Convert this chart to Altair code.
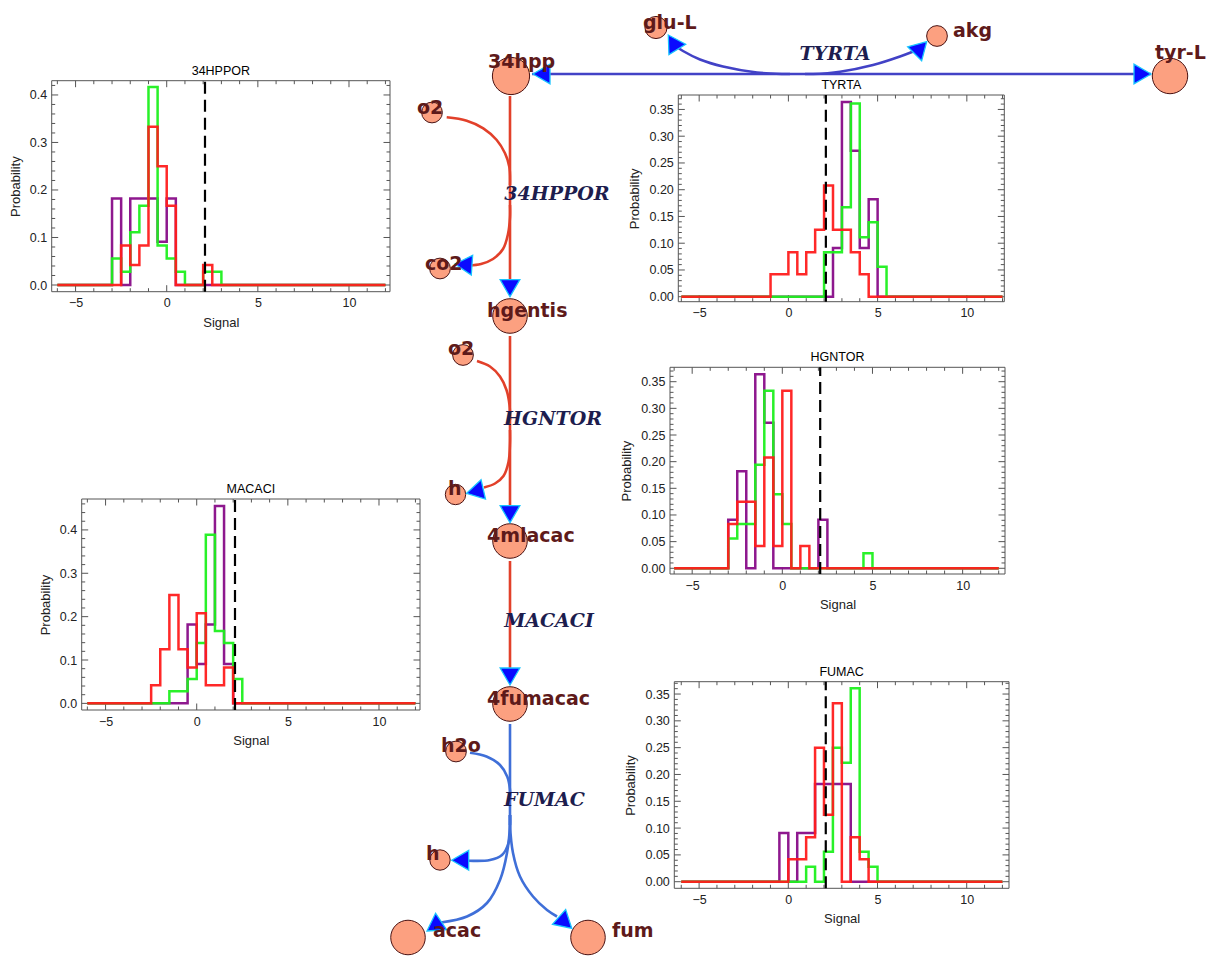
import altair as alt
import pandas as pd

W, H = 1212, 956

# ---------------- histogram values: probability per 0.5-wide signal bin ----------------
BIN_WIDTH = 0.5
SIGNAL_RANGE = [-6.0, 12.0]
THRESHOLD = 2.1
X_TICKS = [-5, 0, 5, 10]
Y_TICKS_TENTHS = [0.0, 0.1, 0.2, 0.3, 0.4]
Y_TICKS_TWENTIETHS = [0.0, 0.05, 0.10, 0.15, 0.20, 0.25, 0.30, 0.35]

HPPOR_START = -3.0
HPPOR_PURPLE = [0.182, 0.0, 0.182, 0.182, 0.182, 0.091, 0.182, 0.0, 0.0, 0.0, 0.0, 0.0]
HPPOR_GREEN = [0.056, 0.028, 0.111, 0.167, 0.417, 0.083, 0.056, 0.028, 0.0, 0.0, 0.028, 0.028]
HPPOR_RED = [0.0, 0.083, 0.042, 0.083, 0.333, 0.25, 0.167, 0.0, 0.0, 0.0, 0.042, 0.0]

TYRTA_START = -1.0
TYRTA_PURPLE = [0, 0, 0, 0, 0, 0, 0, 0.091, 0.364, 0.273, 0.091, 0.182, 0]
TYRTA_GREEN = [0, 0, 0, 0, 0, 0, 0.083, 0.083, 0.167, 0.361, 0.111, 0.139, 0.056]
TYRTA_RED = [0.042, 0.042, 0.083, 0.042, 0.083, 0.125, 0.208, 0.125, 0.125, 0.083, 0.042, 0, 0]

HGNTOR_START = -3.0
HGNTOR_PURPLE = [0.091, 0.182, 0, 0.364, 0.273, 0, 0, 0, 0, 0, 0.091, 0, 0, 0, 0, 0]
HGNTOR_GREEN = [0.056, 0.083, 0.083, 0.194, 0.333, 0.139, 0.083, 0, 0, 0, 0, 0, 0, 0, 0, 0.028]
HGNTOR_RED = [0.083, 0.125, 0.125, 0.042, 0.208, 0.042, 0.333, 0, 0.042, 0, 0, 0, 0, 0, 0, 0]

MACACI_START = -2.5
MACACI_PURPLE = [0, 0, 0, 0, 0.182, 0.091, 0.182, 0.455, 0.091, 0]
MACACI_GREEN = [0, 0, 0.028, 0.028, 0.056, 0.139, 0.389, 0.167, 0.139, 0.056]
MACACI_RED = [0.042, 0.125, 0.25, 0.125, 0.083, 0.208, 0.042, 0.042, 0.083, 0]

FUMAC_START = -0.5
FUMAC_PURPLE = [0.091, 0, 0.091, 0.091, 0.182, 0.182, 0.182, 0.182, 0, 0, 0]
FUMAC_GREEN = [0, 0, 0, 0.028, 0, 0.056, 0.25, 0.222, 0.361, 0.056, 0.028]
FUMAC_RED = [0, 0.042, 0.042, 0.083, 0.25, 0.125, 0.333, 0, 0.083, 0.042, 0]

# ---------------- network (pathway) values, in picture coordinates ----------------
NODE_NAMES = ["34hpp", "glu-L", "akg", "tyr-L", "o2", "co2", "hgentis", "o2", "h",
              "4mlacac", "4fumacac", "h2o", "h", "acac", "fum"]
NODE_X = [511, 656, 937, 1170, 432, 440, 510, 463, 455.5, 510, 510, 456, 440, 408, 588]
NODE_Y = [76, 27.5, 36, 76, 112.5, 268.5, 316, 355, 494.5, 541, 704, 751.5, 860, 937.5, 937.5]
NODE_R = [21, 12.5, 11.7, 20, 11.7, 11.7, 19.5, 11.7, 11.5, 19.5, 19.5, 11.7, 11.5, 19.5, 19.5]
LABEL_X = [488, 643, 953, 1155, 417, 425, 487, 448, 448, 487, 487, 441, 426, 433, 612]
LABEL_Y = [68, 29, 37, 59, 114, 270, 317, 355, 495, 542, 705, 752, 860, 937, 937]

RXN_NAMES = ["TYRTA", "34HPPOR", "HGNTOR", "MACACI", "FUMAC"]
RXN_X = [835, 557, 553, 549, 544.5]
RXN_Y = [60, 200, 425, 627, 806]
RXN_COLORS = ["#4242c6", "#e2402a", "#e2402a", "#e2402a", "#3f6fd8"]

TYRTA_MAIN = [(532, 74), (1151, 74)]
TYRTA_GLU = [(790, 74), (783, 74), (757, 72.5), (723, 66.5), (700, 59.5), (683, 51), (677, 47)]
TYRTA_AKG = [(805, 74), (813, 74), (840, 71.7), (873, 65), (900, 56.5), (917, 50)]
HPPOR_MAIN = [(510, 96), (510, 281)]
HPPOR_O2 = [(446.7, 117.3), (466.7, 120.7), (483.3, 128.3), (496.7, 140), (505, 153.3), (509.3, 166.7), (510, 185)]
HPPOR_CO2 = [(510, 205), (510, 217), (508, 234), (503, 249), (493, 259), (481, 264), (469, 265.5)]
HGNTOR_MAIN = [(510, 336), (510, 506)]
HGNTOR_O2 = [(477, 361), (490, 366.5), (500, 376.5), (506.5, 390), (509.5, 405), (510, 420)]
HGNTOR_H = [(510, 430), (510, 443), (508.5, 462), (503.5, 476), (495, 483.5), (484, 487.5)]
MACACI_MAIN = [(510, 561), (510, 668)]
FUMAC_MAIN = [(510, 724), (510, 825)]
FUMAC_H2O = [(470, 752.7), (486.5, 756.5), (500, 765), (507.3, 776.7), (510, 790), (510, 800)]
FUMAC_H = [(510, 815), (510, 825), (508.5, 843), (502, 855), (490, 860), (468.5, 860.7)]
FUMAC_ACAC = [(510, 815), (510, 825), (507, 853), (500, 880), (487, 903), (467, 916.5), (441, 922.5)]
FUMAC_FUM = [(510, 815), (510, 825), (513, 853), (520, 876.5), (533, 896.5), (547, 910), (557, 916.5)]

EDGES = [("TYRTA", TYRTA_MAIN), ("TYRTA", TYRTA_GLU), ("TYRTA", TYRTA_AKG),
         ("34HPPOR", HPPOR_MAIN), ("34HPPOR", HPPOR_O2), ("34HPPOR", HPPOR_CO2),
         ("HGNTOR", HGNTOR_MAIN), ("HGNTOR", HGNTOR_O2), ("HGNTOR", HGNTOR_H),
         ("MACACI", MACACI_MAIN),
         ("FUMAC", FUMAC_MAIN), ("FUMAC", FUMAC_H2O), ("FUMAC", FUMAC_H),
         ("FUMAC", FUMAC_ACAC), ("FUMAC", FUMAC_FUM)]

ARROW_X = [533, 1151, 668.3, 926.7, 510, 455, 466.7, 510, 510, 451.7, 427, 571.7]
ARROW_Y = [74, 74, 35, 41.7, 296.7, 264, 493.3, 522.7, 685, 860.3, 931, 928.3]
ARROW_ANGLE = [270, 90, 328, 45, 180, 274, 257, 180, 180, 270, 236, 132]

# ---------------- styling ----------------
SERIES_COLORS = ["#880c88", "#1ef01e", "#ff1c1c"]
LABEL_FONT = "Liberation Sans"
NODE_FONT = "DejaVu Sans"
RXN_FONT = "DejaVu Serif"
ARROW_PATH = "M0,0L-0.58,1L0.58,1Z"
TICK_SIZE = {"major": 169, "minor": 49}

PANELS = [
    dict(name="34HPPOR", start=HPPOR_START, series=[HPPOR_PURPLE, HPPOR_GREEN, HPPOR_RED],
         box=(51.7, 390, 80.7, 291.7), xdom=(-6.31, 12.25), ydom=(-0.0141, 0.430),
         yticks=Y_TICKS_TENTHS, yfmt=".1f", ystep=0.1, xtitle="Signal"),
    dict(name="TYRTA", start=TYRTA_START, series=[TYRTA_PURPLE, TYRTA_GREEN, TYRTA_RED],
         box=(678.3, 1004.3, 95, 301.7), xdom=(-6.17, 12.1), ydom=(-0.0093, 0.377),
         yticks=Y_TICKS_TWENTIETHS, yfmt=".2f", ystep=0.05, xtitle=""),
    dict(name="HGNTOR", start=HGNTOR_START, series=[HGNTOR_PURPLE, HGNTOR_GREEN, HGNTOR_RED],
         box=(670, 1005, 367.3, 574), xdom=(-6.23, 12.35), ydom=(-0.0107, 0.377),
         yticks=Y_TICKS_TWENTIETHS, yfmt=".2f", ystep=0.05, xtitle="Signal"),
    dict(name="MACACI", start=MACACI_START, series=[MACACI_PURPLE, MACACI_GREEN, MACACI_RED],
         box=(81.7, 420, 499, 710), xdom=(-6.31, 12.25), ydom=(-0.0153, 0.4713),
         yticks=Y_TICKS_TENTHS, yfmt=".1f", ystep=0.1, xtitle="Signal"),
    dict(name="FUMAC", start=FUMAC_START, series=[FUMAC_PURPLE, FUMAC_GREEN, FUMAC_RED],
         box=(674.3, 1009, 681.7, 888.3), xdom=(-6.39, 12.37), ydom=(-0.0123, 0.373),
         yticks=Y_TICKS_TWENTIETHS, yfmt=".2f", ystep=0.05, xtitle="Signal"),
]


def step_points(start, values):
    pts = [(SIGNAL_RANGE[0], 0.0)]
    for i, v in enumerate(values):
        pts.append((start + i * BIN_WIDTH, v))
    pts.append((start + len(values) * BIN_WIDTH, 0.0))
    pts.append((SIGNAL_RANGE[1], 0.0))
    return pd.DataFrame(pts, columns=["signal", "prob"])


def panel_chart(p):
    L, R, T, B = p["box"]
    x0, x1 = p["xdom"]
    y0, y1 = p["ydom"]
    xs = alt.Scale(domain=[x0, x1], range=[L, R], nice=False, zero=False)
    ys = alt.Scale(domain=[y0, y1], range=[B, T], nice=False, zero=False)
    xa = alt.Axis(orient="bottom", offset=B - H, values=X_TICKS, ticks=False, domain=False,
                  grid=False, labelPadding=5, title=p["xtitle"], titlePadding=7)
    ya = alt.Axis(orient="left", offset=-L, values=p["yticks"], format=p["yfmt"], ticks=False,
                  domain=False, grid=False, labelPadding=5, title="Probability", titlePadding=7)

    def X(field):
        return alt.X(field, type="quantitative", scale=xs, axis=xa)

    def Y(field):
        return alt.Y(field, type="quantitative", scale=ys, axis=ya)

    frame_df = pd.DataFrame({"a": [x0], "b": [x1], "c": [y0], "d": [y1]})
    frame = alt.Chart(frame_df).mark_rect(fill="white", fillOpacity=0, stroke="#555555",
                                          strokeWidth=1).encode(
        x=X("a"), x2="b", y=Y("c"), y2="d")

    rows = []
    for v in range(int(SIGNAL_RANGE[0]), int(SIGNAL_RANGE[1]) + 1):
        kind = "major" if v % 5 == 0 else "minor"
        rows.append((v, y0, "M0,0L0,-1", TICK_SIZE[kind]))
        rows.append((v, y1, "M0,0L0,1", TICK_SIZE[kind]))
    minor = p["ystep"] / 5
    k = 0
    while k * minor <= y1:
        kind = "major" if k % 5 == 0 else "minor"
        rows.append((x0, k * minor, "M0,0L1,0", TICK_SIZE[kind]))
        rows.append((x1, k * minor, "M0,0L-1,0", TICK_SIZE[kind]))
        k += 1
    tick_df = pd.DataFrame(rows, columns=["tx", "ty", "shp", "sz"])
    ticks = alt.Chart(tick_df).mark_point(filled=False, color="#555555", opacity=1,
                                          strokeWidth=1).encode(
        x=X("tx"), y=Y("ty"),
        shape=alt.Shape("shp:N", scale=None),
        size=alt.Size("sz:Q", scale=None))

    lines = []
    for vals, col in zip(p["series"], SERIES_COLORS):
        lines.append(alt.Chart(step_points(p["start"], vals)).mark_line(
            interpolate="step-after", color=col, strokeWidth=2.5, opacity=0.95).encode(
            x=X("signal"), y=Y("prob")))

    thr_df = pd.DataFrame({"t": [THRESHOLD], "c": [y0], "d": [y1]})
    thr = alt.Chart(thr_df).mark_rule(color="black", strokeWidth=2.2, strokeDash=[12, 6]).encode(
        x=X("t"), y=Y("c"), y2="d")

    title_df = pd.DataFrame({"m": [(x0 + x1) / 2], "top": [y1], "name": [p["name"]]})
    title = alt.Chart(title_df).mark_text(baseline="bottom", dy=-3, fontSize=12.5,
                                          font=LABEL_FONT, color="black").encode(
        x=X("m"), y=Y("top"), text="name:N")

    return alt.layer(frame, ticks, *lines, thr, title)


# ---------------- network layer ----------------
nx = alt.Scale(domain=[0, W], range=[0, W], nice=False, zero=False)
ny = alt.Scale(domain=[0, H], range=[0, H], nice=False, zero=False)


def NX(f):
    return alt.X(f, type="quantitative", scale=nx, axis=None)


def NY(f):
    return alt.Y(f, type="quantitative", scale=ny, axis=None)


edge_rows = []
for eid, (rxn, pts) in enumerate(EDGES):
    for i, (ex, ey) in enumerate(pts):
        edge_rows.append({"edge": eid, "rxn": rxn, "i": i, "ex": ex, "ey": ey})
edge_df = pd.DataFrame(edge_rows)

edges = alt.Chart(edge_df).mark_line(interpolate="catmull-rom", strokeWidth=2.6).encode(
    x=NX("ex"), y=NY("ey"), detail="edge:N", order="i:Q",
    color=alt.Color("rxn:N", scale=alt.Scale(domain=RXN_NAMES, range=RXN_COLORS), legend=None))

node_df = pd.DataFrame({"name": NODE_NAMES, "nx": NODE_X, "ny": NODE_Y, "r": NODE_R})
node_df["area"] = 3.14159 * node_df["r"] ** 2
nodes = alt.Chart(node_df).mark_point(shape="circle", filled=True, fill="#fca080", opacity=1,
                                      stroke="#4a1212", strokeWidth=1).encode(
    x=NX("nx"), y=NY("ny"), size=alt.Size("area:Q", scale=None))

arrow_df = pd.DataFrame({"ax": ARROW_X, "ay": ARROW_Y, "ang": ARROW_ANGLE})
arrows = alt.Chart(arrow_df).mark_point(shape=ARROW_PATH, filled=True, fill="#0a0aff",
                                        stroke="#18c4ff", strokeWidth=1.3, opacity=1,
                                        size=1156).encode(
    x=NX("ax"), y=NY("ay"), angle=alt.Angle("ang:Q", scale=None))

label_df = pd.DataFrame({"name": NODE_NAMES, "lx": LABEL_X, "ly": LABEL_Y})
labels = alt.Chart(label_df).mark_text(align="left", baseline="alphabetic", font=NODE_FONT,
                                       fontWeight="bold", fontSize=19, color="#5e1a1a").encode(
    x=NX("lx"), y=NY("ly"), text="name:N")

rxn_df = pd.DataFrame({"name": RXN_NAMES, "rx": RXN_X, "ry": RXN_Y})
rxn_labels = alt.Chart(rxn_df).mark_text(align="center", baseline="alphabetic", font=RXN_FONT,
                                         fontWeight="bold", fontStyle="italic", fontSize=19,
                                         color="#1d1d4e").encode(
    x=NX("rx"), y=NY("ry"), text="name:N")

network = alt.layer(edges, nodes, arrows, labels, rxn_labels)

chart = alt.layer(network, *[panel_chart(p) for p in PANELS]).resolve_scale(
    x="independent", y="independent"
).properties(
    width=W, height=H, padding=0, autosize=alt.AutoSizeParams(type="none"),
    background="white"
).configure_view(stroke=None).configure_axis(
    labelFont=LABEL_FONT, labelFontSize=12.5, labelColor="#222222",
    titleFont=LABEL_FONT, titleFontSize=13, titleFontWeight="normal", titleColor="#222222"
)

chart.save("out.html", embed_options={"renderer": "svg", "actions": False})
